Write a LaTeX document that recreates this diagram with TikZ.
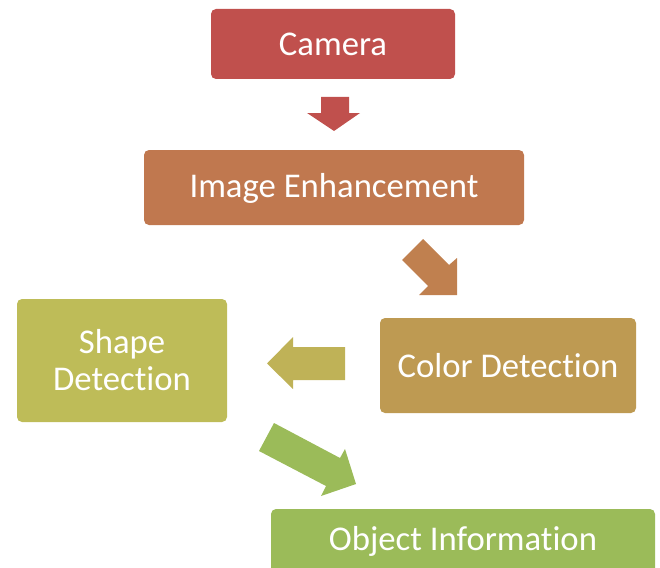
\documentclass[tikz,border=0pt]{standalone}
\usepackage{fontspec}
\setmainfont[Ligatures=NoCommon,RawFeature={-liga;-clig;-calt}]{Carlito}
\definecolor{camc}{HTML}{C0504D}
\definecolor{enhc}{HTML}{C0784F}
\definecolor{colc}{HTML}{BE9A52}
\definecolor{shpc}{HTML}{BEBC58}
\definecolor{objc}{HTML}{9BBB59}
\definecolor{arrb}{HTML}{C0804F}
\definecolor{arry}{HTML}{BFB257}
\begin{document}
\begin{tikzpicture}[x=1pt,y=-1pt,
  blk/.style={rounded corners=5pt,draw=none},
  lbl/.style={text=white,font=\fontsize{34.7}{37}\selectfont,align=center,inner sep=0pt}]
\useasboundingbox (0,0) rectangle (660,567);
% boxes
\fill[blk,camc] (211,9) rectangle (455,79);
\node[lbl] (cam) at (333,44) {Camera};
\fill[blk,enhc] (144,150) rectangle (524,225);
\node[lbl] (enh) at (334,188) {Image Enhancement};
\fill[blk,colc] (380,318) rectangle (636,413);
\node[lbl] (col) at (508,365.5) {Color Detection};
\fill[blk,shpc] (17,299) rectangle (227,422);
\node[lbl] (shp) at (122,360.5) {Shape\\Detection};
\begin{scope}
\clip (0,0) rectangle (660,567);
\fill[blk,objc] (271,509) rectangle (655,580);
\end{scope}
\node[lbl] (obj) at (463,541) {Object Information};
% block arrows
\fill[camc] (321,97) -- (349,97) -- (349,113) -- (360,113) -- (334,131) -- (307,113) -- (321,113) -- cycle;
\fill[arrb] (423,239) -- (449,265) -- (457,258) -- (457,295) -- (419,295) -- (428,286) -- (402,260) -- cycle;
\fill[arry] (345,347) -- (293,347) -- (293,337) -- (267,363.5) -- (293,389) -- (293,380) -- (345,380) -- cycle;
\fill[objc] (274,423) -- (340,458) -- (345,449) -- (356,484) -- (321,496) -- (326,486) -- (259,451) -- cycle;
\end{tikzpicture}
\end{document}
